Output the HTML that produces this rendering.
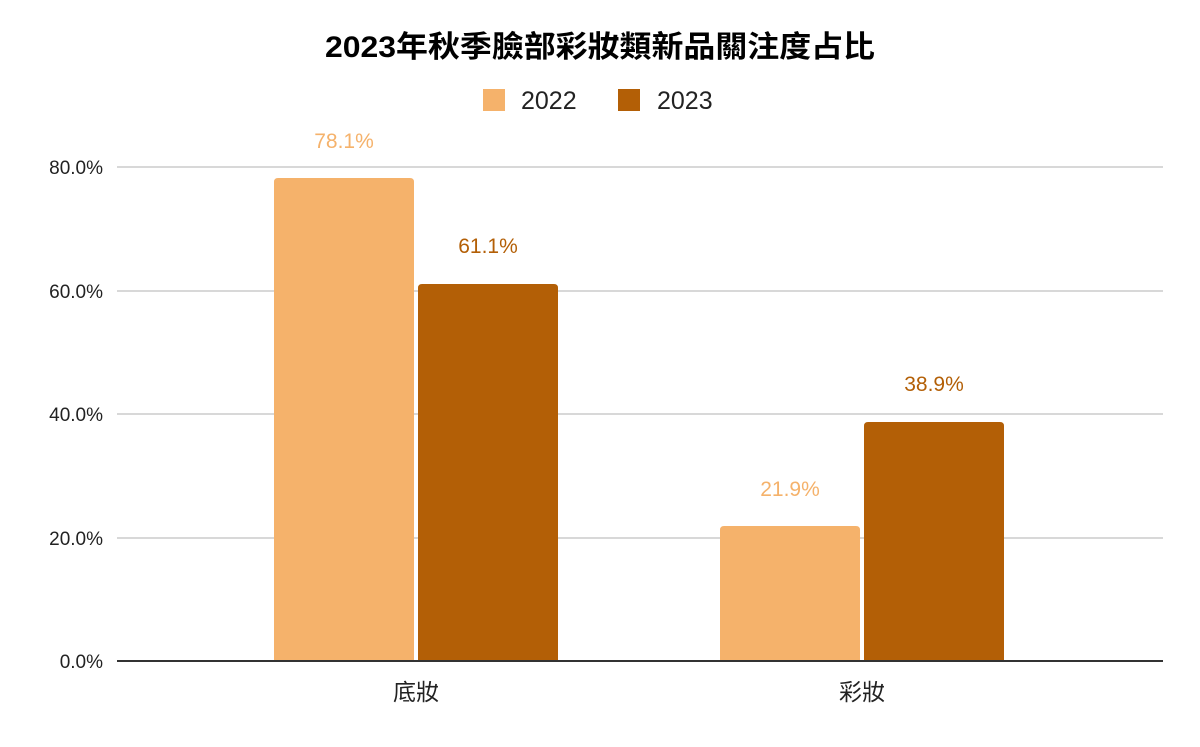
<!DOCTYPE html>
<html><head><meta charset="utf-8"><style>body{margin:0;background:#fff}</style></head><body>
<svg width="1200" height="742" xmlns="http://www.w3.org/2000/svg" font-family="Liberation Sans, Noto Sans CJK TC, sans-serif">
<rect width="1200" height="742" fill="#fff"/>
<text x="600" y="57" text-anchor="middle" font-size="30" font-weight="bold" fill="#000" textLength="550" lengthAdjust="spacingAndGlyphs">2023年秋季臉部彩妝類新品關注度占比</text>
<rect x="483" y="89" width="22" height="22" fill="#F5B26B"/>
<text x="521" y="109" font-size="25" fill="#222">2022</text>
<rect x="618" y="89" width="22" height="22" fill="#B35F06"/>
<text x="657" y="109" font-size="25" fill="#222">2023</text>
<g stroke="#ccc" stroke-width="1.5">
<line x1="117" y1="167" x2="1163" y2="167"/>
<line x1="117" y1="291" x2="1163" y2="291"/>
<line x1="117" y1="414" x2="1163" y2="414"/>
<line x1="117" y1="538" x2="1163" y2="538"/>
</g>
<g font-size="19" fill="#222" text-anchor="end">
<text x="103" y="174">80.0%</text>
<text x="103" y="298">60.0%</text>
<text x="103" y="421">40.0%</text>
<text x="103" y="545">20.0%</text>
<text x="103" y="668">0.0%</text>
</g>
<path d="M274,661 V182 Q274,178 278,178 H410 Q414,178 414,182 V661Z" fill="#F5B26B"/>
<path d="M418,661 V288 Q418,284 422,284 H554 Q558,284 558,288 V661Z" fill="#B35F06"/>
<path d="M720,661 V530 Q720,526 724,526 H856 Q860,526 860,530 V661Z" fill="#F5B26B"/>
<path d="M864,661 V426 Q864,422 868,422 H1000 Q1004,422 1004,426 V661Z" fill="#B35F06"/>
<line x1="117" y1="661" x2="1163" y2="661" stroke="#333" stroke-width="2"/>
<g font-size="21" text-anchor="middle">
<text x="344" y="148" fill="#F5B26B">78.1%</text>
<text x="488" y="253" fill="#B35F06">61.1%</text>
<text x="790" y="496" fill="#F5B26B">21.9%</text>
<text x="934" y="391" fill="#B35F06">38.9%</text>
</g>
<g font-size="23" fill="#222" text-anchor="middle">
<text x="416" y="700">底妝</text>
<text x="862" y="700">彩妝</text>
</g>
</svg>
</body></html>
